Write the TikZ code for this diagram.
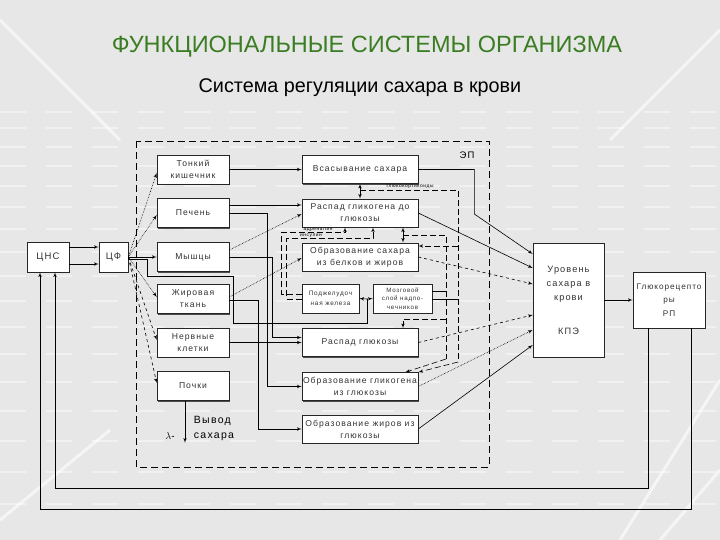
\documentclass[tikz,border=0pt]{standalone}
\usepackage{fontspec}
\setmainfont{Liberation Sans}
\newfontfamily\boxfont[LetterSpace=12]{Liberation Sans}
\usetikzlibrary{shapes,arrows,shadows}
\definecolor{titlegreen}{RGB}{58,125,34}
\definecolor{slidebg}{RGB}{231,231,231}
\tikzstyle{block} = [rectangle, draw=black!85, fill=white, inner sep=1pt, align=center,
text=black!80, font=\boxfont\fontsize{8.6}{12}\selectfont,
drop shadow={shadow xshift=1.3pt, shadow yshift=-1.3pt, opacity=1, fill=black!70}]
\tikzstyle{lbox} = [block, minimum width=72pt, minimum height=29pt]
\tikzstyle{mbox} = [block, minimum width=116pt, minimum height=28pt]
\tikzstyle{line} = [draw, -latex']
\tikzstyle{dline} = [draw, dashed, -latex']
\tikzstyle{pline} = [draw, densely dotted, -latex']
\tikzstyle{hline} = [draw, dash pattern=on 6pt off 3pt]
\tikzstyle{tag} = [inner sep=0.5pt, font=\boxfont\fontsize{4.8}{5}\selectfont]

\begin{document}
\begin{tikzpicture}[x=1pt, y=-1pt, line width=0.6pt]
\fill[slidebg] (0,0) rectangle (720,540);
\useasboundingbox (0,0) rectangle (720,540);
% background of the slide
\foreach \yy in {112,128,147,166,186,207,229,252,276,301,327,354,382,411,441,472,504}
  \draw[white, opacity=0.45, line width=1.5pt, dash pattern=on 26pt off 20pt] (0,\yy) -- (720,\yy);
\draw[white, opacity=0.6, line width=3pt] (0,20) -- (120,140) (0,520) -- (110,430)
  (720,30) -- (610,140) (620,540) -- (720,380) (660,540) -- (720,470);

\node[text=titlegreen, font=\fontsize{23.5}{26}\selectfont] (title) at (367,47) {ФУНКЦИОНАЛЬНЫЕ СИСТЕМЫ ОРГАНИЗМА};
\node[font=\fontsize{19.8}{22}\selectfont] (subtitle) at (360,88) {Система регуляции сахара в крови};

% frame of the effector part
\draw[dash pattern=on 7pt off 4pt, line width=0.7pt] (136,141) rectangle (489,467);
\node[font=\boxfont\fontsize{9.5}{10}\selectfont] (ep) at (467,155) {ЭП};

\node[block, minimum width=42pt, minimum height=30pt, font=\boxfont\fontsize{9.5}{11}\selectfont] (cns) at (48,257) {ЦНС};
\node[block, minimum width=29pt, minimum height=30pt, font=\boxfont\fontsize{9.5}{11}\selectfont] (cf) at (113.5,257) {ЦФ};

\node[lbox] (tonk) at (193,169.5) {Тонкий\\кишечник};
\node[lbox] (pechen) at (193,213) {Печень};
\node[lbox] (myshcy) at (193,257) {Мышцы};
\node[lbox] (zhir) at (193,299) {Жировая\\ткань};
\node[lbox] (nerv) at (193,342.5) {Нервные\\клетки};
\node[lbox] (pochki) at (193,386) {Почки};

\node[mbox] (vsas) at (360,169.5) {Всасывание сахара};
\node[mbox] (raspgl) at (360,213) {Распад гликогена до\\глюкозы};
\node[mbox] (obrsah) at (360,257) {Образование сахара\\из белков и жиров};
\node[block, minimum width=57pt, minimum height=29pt, font=\boxfont\fontsize{6.4}{9.5}\selectfont] (podzh) at (330.5,298.5) {Поджелудоч\\ная железа};
\node[block, minimum width=59pt, minimum height=29pt, font=\boxfont\fontsize{6.2}{8.5}\selectfont] (mozg) at (402.5,298.5) {Мозговой\\слой надпо-\\чечников};
\node[mbox] (raspglu) at (360,342.5) {Распад глюкозы};
\node[mbox] (obrgl) at (360,386.5) {Образование гликогена\\из глюкозы};
\node[mbox] (obrzh) at (360,429) {Образование жиров из\\глюкозы};

\node[block, minimum width=71pt, minimum height=114pt, font=\boxfont\fontsize{9.2}{14}\selectfont] (urov) at (568.5,300) {Уровень\\сахара в\\крови\\[20pt]КПЭ};
\node[block, minimum width=72pt, minimum height=56pt, font=\boxfont\fontsize{8.2}{13.5}\selectfont] (gluk) at (669,300) {Глюкорецепто\\ры\\РП};

\coordinate (jn) at (367,299);
\coordinate (gk1) at (458,190);
\coordinate (gk2) at (458,362);
\coordinate (gk3) at (458,246);
\coordinate (ad1) at (446,235);
\coordinate (ad2) at (446,359);
\coordinate (ad3) at (446,319);

% CNS and central pathways
\path [line] ([yshift=10pt]cns.east) -- ([yshift=10pt]cf.west);
\path [line] ([yshift=-7pt]cns.east) -- ([yshift=-7pt]cf.west);
\path [pline] (cf.east) -- ([yshift=-3.5pt]tonk.west);
\path [pline] (cf.east) -- ([yshift=-2pt]pechen.west);
\path [line] (cf.east) -- (myshcy.west);
\path [pline] (cf.east) -- ([yshift=2pt]zhir.west);
\path [dline] (cf.east) -- ([yshift=2.5pt]nerv.west);
\path [dline] (cf.east) -- ([yshift=3pt]pochki.west);
\draw ([yshift=-2pt]cf.east) -- ++(19,0) -- ++(0,17) -- ++(86,0) -- ++(0,47) -| (jn);
\path [line] (jn) -- (podzh.east);
\path [line] (jn) -- (mozg.west);

% organs to processes
\path [line] (tonk.east) -- (vsas.west);
\path [line] ([yshift=8pt]pechen.east) -- ([yshift=8pt]raspgl.west);
\path [line] (pechen.east) -- ++(38,0) |- (obrgl.west);
\path [line] (myshcy.east) -- ++(43,0) |- ([yshift=5pt]raspglu.west);
\path [pline] ([yshift=7pt]myshcy.east) -- ([yshift=-1pt]raspgl.west);
\path [line] ([yshift=-1pt]zhir.east) -- ++(29,0) |- (obrzh.west);
\path [pline] ([yshift=2pt]zhir.east) -- ([yshift=-1pt]obrsah.west);
\path [line] (nerv.east) -- (raspglu.west);
\path [line] ([xshift=-8pt]pochki.south) -- ++(0,42);
\node[font=\boxfont\fontsize{10.5}{15}\selectfont, align=left] (vyvod) at (214,428) {Вывод\\сахара};
\node (lam) at (170,436) {$\lambda$-};

% hormones
\path [draw, latex'-latex'] (vsas.south) -- (raspgl.north);
\draw [hline] (vsas.south |- gk1) -- (gk1) -- (gk2);
\path [hline, -latex'] (gk2) -- (obrgl.north east);
\path [hline, -latex'] (gk3) -- (gk3 -| obrsah.east);
\node[tag, anchor=south] (glk) at (410,189.5) {глюкокортикоиды};
\path [draw, latex'-latex'] ([xshift=43pt]raspgl.south) -- ([xshift=43pt]obrsah.north);
\draw [hline] ([xshift=43pt]raspgl.south |- ad1) -- (ad1) -- (ad2);
\path [hline, -latex'] (ad2) -- ([xshift=-13pt]obrgl.north east);
\path [hline, -latex'] (ad3) -| ([xshift=43pt]raspglu.north);
\draw ([yshift=7pt]mozg.east) -- ([yshift=7pt]mozg.east -| ad1);
\draw ([yshift=-1pt]mozg.east) -- ([yshift=-1pt]mozg.east -| gk1);
\path [hline, -latex'] ([yshift=4.5pt]podzh.west) -- ++(-20,0) -- ++(0,-62) -| ([xshift=-15pt]raspgl.south);
\path [hline, -latex'] ([yshift=-0.5pt]podzh.west) -- ++(-15,0) -- ++(0,-61) -| ([xshift=13pt]raspgl.south);
\node[tag, anchor=south] (adr) at (318,232) {адреналин};
\node[tag, anchor=south] (ins) at (311,238) {инсулин};

% processes to blood sugar level
\path [line] (vsas.east) -- ++(56,0) -- ++(0,44.5) -- ([yshift=46pt]urov.west);
\path [line] (raspgl.east) -- ([yshift=32pt]urov.west);
\path [dline] (obrsah.east) -- ([yshift=16pt]urov.west);
\path [dline] (raspglu.east) -- ([yshift=-15pt]urov.west);
\path [pline] (obrgl.east) -- ([yshift=-30pt]urov.west);
\path [line] (obrzh.east) -- ([yshift=-45pt]urov.west);
\path [line] (urov.east) -- (gluk.west);

% feedback
\path [line] ([xshift=-21pt]gluk.south) -- ++(0,160) -| ([xshift=7pt]cns.south);
\path [line] ([xshift=22pt]gluk.south) -- ++(0,181) -| ([xshift=-8pt]cns.south);
\end{tikzpicture}
\end{document}
